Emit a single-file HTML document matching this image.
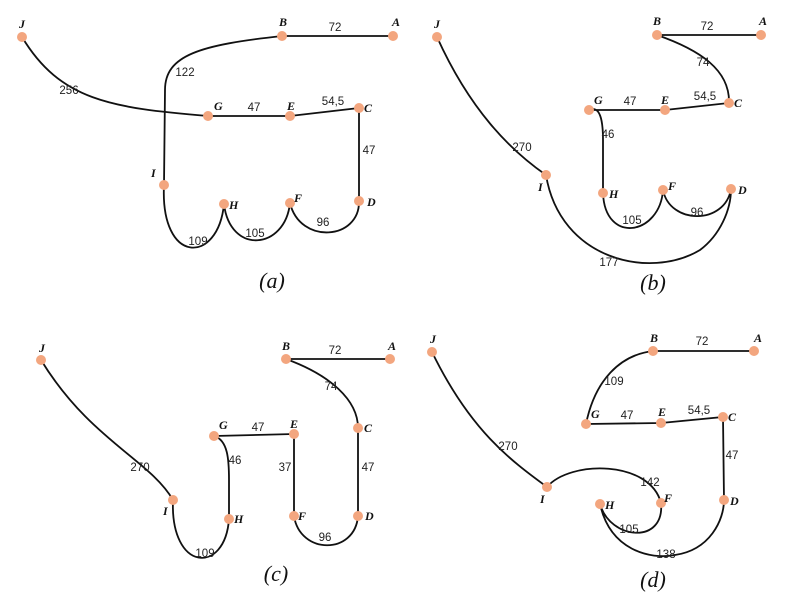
<!DOCTYPE html>
<html><head><meta charset="utf-8"><style>
body{margin:0;background:#fff}
svg{display:block}
.e{fill:none;stroke:#111;stroke-width:1.8}
.n{fill:#f3a67f}
.l{font:bold italic 12px "Liberation Serif",serif;fill:#111}
.w{font:11.5px "Liberation Sans",sans-serif;fill:#222;text-anchor:middle}
.c{font:italic 22px "Liberation Serif",serif;fill:#111;text-anchor:middle}
</style></head><body>
<svg width="785" height="596" viewBox="0 0 785 596">
<!-- (a) -->
<path class="e" d="M22,37 C60,100 110,108 208,116 L290,116 L359,108 L359,201"/>
<path class="e" d="M282,36 L393,36 M282,36 C200,45 165,55 165,90 L164,185 C160,265 218,265 224,204 C230,255 285,250 290,203 C300,245 360,240 359,201"/>
<g class="n"><circle cx="22" cy="37" r="5"/><circle cx="282" cy="36" r="5"/><circle cx="393" cy="36" r="5"/><circle cx="208" cy="116" r="5"/><circle cx="290" cy="116" r="5"/><circle cx="359" cy="108" r="5"/><circle cx="359" cy="201" r="5"/><circle cx="290" cy="203" r="5"/><circle cx="224" cy="204" r="5"/><circle cx="164" cy="185" r="5"/></g>
<g class="l"><text x="19" y="28">J</text><text x="279" y="26">B</text><text x="392" y="26">A</text><text x="214" y="110">G</text><text x="287" y="110">E</text><text x="364" y="112">C</text><text x="367" y="206">D</text><text x="294" y="202">F</text><text x="229" y="209">H</text><text x="151" y="177">I</text></g>
<g class="w"><text x="335" y="31">72</text><text x="185" y="76">122</text><text x="69" y="94">256</text><text x="254" y="111">47</text><text x="333" y="105">54,5</text><text x="369" y="154">47</text><text x="198" y="245">109</text><text x="255" y="237">105</text><text x="323" y="226">96</text></g>
<text class="c" x="272" y="288">(a)</text>
<!-- (b) -->
<path class="e" d="M437,37 C470,110 510,150 546,175 M657,35 L761,35 M657,35 C700,50 730,70 729,103 L665,110 L589,110 C600,105 603,120 603,140 L603,193 C605,245 660,235 663,190 C670,225 725,225 731,189 M546,175 C560,260 650,280 700,250 C720,235 731,210 731,189"/>
<g class="n"><circle cx="437" cy="37" r="5"/><circle cx="657" cy="35" r="5"/><circle cx="761" cy="35" r="5"/><circle cx="729" cy="103" r="5"/><circle cx="589" cy="110" r="5"/><circle cx="665" cy="110" r="5"/><circle cx="603" cy="193" r="5"/><circle cx="663" cy="190" r="5"/><circle cx="731" cy="189" r="5"/><circle cx="546" cy="175" r="5"/></g>
<g class="l"><text x="434" y="28">J</text><text x="653" y="25">B</text><text x="759" y="25">A</text><text x="594" y="104">G</text><text x="661" y="104">E</text><text x="734" y="107">C</text><text x="738" y="194">D</text><text x="668" y="190">F</text><text x="609" y="198">H</text><text x="538" y="191">I</text></g>
<g class="w"><text x="707" y="30">72</text><text x="703" y="66">74</text><text x="630" y="105">47</text><text x="705" y="100">54,5</text><text x="608" y="138">46</text><text x="522" y="151">270</text><text x="632" y="224">105</text><text x="697" y="216">96</text><text x="609" y="266">177</text></g>
<text class="c" x="653" y="290">(b)</text>
<!-- (c) -->
<path class="e" d="M41,360 C90,440 150,460 173,500 M286,359 L390,359 M286,359 C330,375 358,400 358,428 L358,516 M214,436 L294,434 L294,516 M214,436 C228,440 229,460 229,480 L229,519 M173,500 C170,572 225,575 229,519 M294,516 C300,555 355,555 358,516"/>
<g class="n"><circle cx="41" cy="360" r="5"/><circle cx="286" cy="359" r="5"/><circle cx="390" cy="359" r="5"/><circle cx="358" cy="428" r="5"/><circle cx="214" cy="436" r="5"/><circle cx="294" cy="434" r="5"/><circle cx="229" cy="519" r="5"/><circle cx="294" cy="516" r="5"/><circle cx="358" cy="516" r="5"/><circle cx="173" cy="500" r="5"/></g>
<g class="l"><text x="39" y="352">J</text><text x="282" y="350">B</text><text x="388" y="350">A</text><text x="219" y="429">G</text><text x="290" y="428">E</text><text x="364" y="432">C</text><text x="365" y="520">D</text><text x="298" y="520">F</text><text x="234" y="523">H</text><text x="163" y="515">I</text></g>
<g class="w"><text x="335" y="354">72</text><text x="331" y="390">74</text><text x="258" y="431">47</text><text x="235" y="464">46</text><text x="285" y="471">37</text><text x="368" y="471">47</text><text x="140" y="471">270</text><text x="205" y="557">109</text><text x="325" y="541">96</text></g>
<text class="c" x="276" y="581">(c)</text>
<!-- (d) -->
<path class="e" d="M432,352 C470,430 510,460 547,487 M653,351 L754,351 M586,424 C595,380 620,355 653,351 M586,424 L661,423 L723,417 L724,500 M547,487 C570,460 650,460 661,503 M600,504 C610,540 665,545 661,503 M600,504 C610,550 650,560 675,555 C710,550 724,520 724,500"/>
<g class="n"><circle cx="432" cy="352" r="5"/><circle cx="653" cy="351" r="5"/><circle cx="754" cy="351" r="5"/><circle cx="586" cy="424" r="5"/><circle cx="661" cy="423" r="5"/><circle cx="723" cy="417" r="5"/><circle cx="724" cy="500" r="5"/><circle cx="661" cy="503" r="5"/><circle cx="600" cy="504" r="5"/><circle cx="547" cy="487" r="5"/></g>
<g class="l"><text x="430" y="343">J</text><text x="650" y="342">B</text><text x="754" y="342">A</text><text x="591" y="418">G</text><text x="658" y="416">E</text><text x="728" y="421">C</text><text x="730" y="505">D</text><text x="664" y="502">F</text><text x="605" y="509">H</text><text x="540" y="503">I</text></g>
<g class="w"><text x="702" y="345">72</text><text x="614" y="385">109</text><text x="627" y="419">47</text><text x="699" y="414">54,5</text><text x="732" y="459">47</text><text x="508" y="450">270</text><text x="650" y="486">142</text><text x="629" y="533">105</text><text x="666" y="558">138</text></g>
<text class="c" x="653" y="587">(d)</text>
</svg>
</body></html>
